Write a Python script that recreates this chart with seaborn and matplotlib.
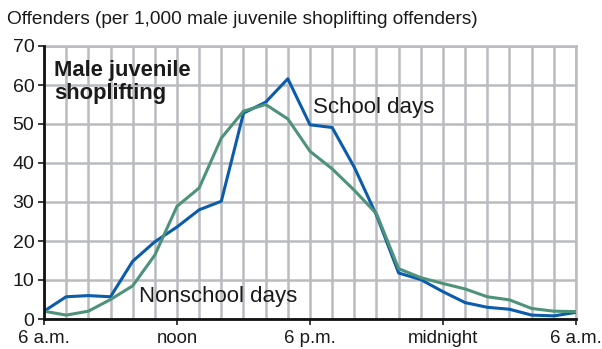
import matplotlib
matplotlib.use("Agg")
import matplotlib.pyplot as plt
import seaborn as sns
import pandas as pd
import numpy as np

# Hours after 6 a.m. (0 = 6 a.m., 24 = 6 a.m. next day)
hours = list(range(25))
school_days = [2.0, 5.7, 6.0, 5.7, 14.8, 19.8, 23.6, 28.0, 30.2, 52.8, 55.6, 61.6,
               49.8, 49.1, 38.9, 26.6, 11.8, 10.1, 7.0, 4.2, 3.0, 2.5, 1.0, 0.8, 1.7]
nonschool_days = [2.0, 1.0, 2.0, 5.0, 8.5, 16.4, 28.9, 33.6, 46.4, 53.3, 55.0, 51.3,
                  43.0, 38.5, 33.0, 27.0, 12.9, 10.6, 9.1, 7.7, 5.7, 4.9, 2.7, 2.0, 1.9]
tick_positions = [0, 6, 12, 18, 24]
tick_labels = ["6 a.m.", "noon", "6 p.m.", "midnight", "6 a.m."]
y_ticks = [0, 10, 20, 30, 40, 50, 60, 70]

df = pd.DataFrame({
    "hour": hours * 2,
    "offenders": school_days + nonschool_days,
    "series": ["School days"] * 25 + ["Nonschool days"] * 25,
})

sns.set_theme(style="white")
plt.rcParams["font.family"] = ["Liberation Sans", "DejaVu Sans"]

fig = plt.figure(figsize=(6.02, 3.49), dpi=100)
ax = fig.add_axes([44 / 602, 1 - 319 / 349, 532 / 602, 273 / 349])

grid_color = "#b9bbbe"
text_color = "#1a1a1a"
palette = {"School days": "#0b5cab", "Nonschool days": "#4e9379"}

sns.lineplot(data=df, x="hour", y="offenders", hue="series", palette=palette,
             linewidth=2.2, ax=ax, legend=False, zorder=3)

ax.set_xlim(0, 24)
ax.set_ylim(0, 70)
ax.set_xticks(tick_positions)
ax.set_xticklabels(tick_labels)
ax.set_xticks(hours, minor=True)
ax.set_yticks(y_ticks)
ax.set_xlabel("")
ax.set_ylabel("")

ax.grid(True, which="both", axis="x", color=grid_color, linewidth=1.8, zorder=0)
ax.grid(True, which="major", axis="y", color=grid_color, linewidth=1.8, zorder=0)

for side in ["top", "right"]:
    ax.spines[side].set_color(grid_color)
    ax.spines[side].set_linewidth(1.8)
for side in ["left", "bottom"]:
    ax.spines[side].set_color("#111111")
    ax.spines[side].set_linewidth(2.0)
    ax.spines[side].set_zorder(4)

ax.tick_params(axis="y", which="major", labelsize=14.0, colors=text_color,
               length=4, width=1.2, direction="out", pad=3, left=True)
ax.tick_params(axis="x", which="major", labelsize=13.4, colors=text_color,
               length=4, width=1.2, direction="out", pad=4, bottom=True)
ax.tick_params(axis="x", which="minor", length=0)

fig.text(7 / 602, 1 - 19 / 349, "Offenders (per 1,000 male juvenile shoplifting offenders)",
         fontsize=13.7, color=text_color, va="center", ha="left")

ax.text(0.45, 66.3, "Male juvenile\nshoplifting", fontsize=15.8, fontweight="bold",
        color=text_color, va="top", ha="left", linespacing=1.12)
ax.text(12.15, 54.3, "School days", fontsize=16, color=text_color, va="center", ha="left")
ax.text(4.3, 5.7, "Nonschool days", fontsize=16, color=text_color, va="center", ha="left")

fig.savefig("out.png", dpi=100)
